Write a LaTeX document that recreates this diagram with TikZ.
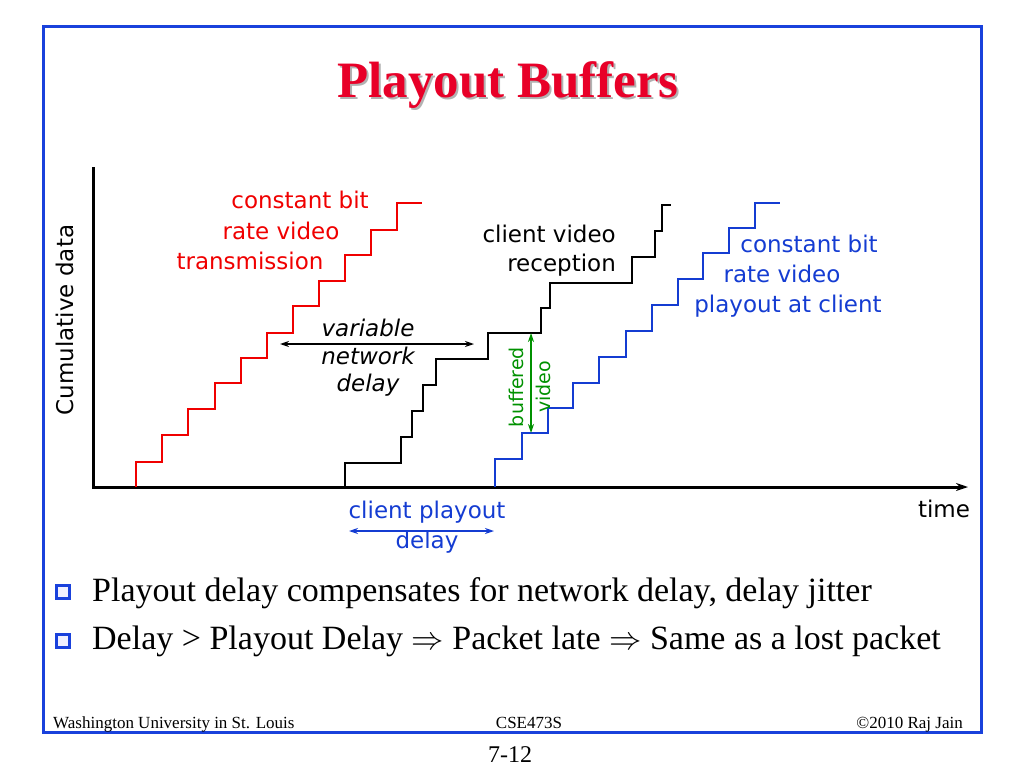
\documentclass[tikz,border=0pt]{standalone}
\usepackage{fontspec}
\setmainfont{Liberation Serif}
\newfontfamily\comicfont{DejaVu Sans}
\usepackage{tikz}
\usetikzlibrary{arrows.meta}
\definecolor{slideblue}{RGB}{25,65,220}
\definecolor{titlered}{RGB}{232,0,40}
\definecolor{sendred}{RGB}{240,0,0}
\definecolor{playblue}{RGB}{20,60,210}
\definecolor{bufgreen}{RGB}{0,145,0}
\newcommand{\impl}{\scalebox{1.3}{$\Rightarrow$}}

\begin{document}
\begin{tikzpicture}[x=1pt, y=-1pt,
  frame/.style={draw=slideblue, line width=3pt},
  axis/.style={line width=3pt, -{Stealth[length=12pt, width=8pt]}},
  stair/.style={line width=2pt},
  hand/.style={font=\comicfont\fontsize{23}{29}\selectfont, inner sep=0pt, align=center},
  arrow/.style={{Stealth[length=9pt, width=6pt]}-{Stealth[length=9pt, width=6pt]}, line width=1.5pt},
  bulletbox/.style={draw=slideblue, fill=blue!6, line width=3pt, minimum size=13pt, inner sep=0pt},
  body/.style={font=\fontsize{34}{40}\selectfont, anchor=base west, inner sep=0pt},
  foot/.style={font=\fontsize{17}{20}\selectfont, inner sep=0pt}
]
\useasboundingbox (0,0) rectangle (1024,768);
\draw[frame] (43,27) rectangle (981,732);

\node[font=\bfseries\fontsize{51}{56}\selectfont, text=black!30, anchor=base, inner sep=0pt] (titleshadow) at (510,99) {Playout Buffers};
\node[font=\bfseries\fontsize{51}{56}\selectfont, text=titlered, anchor=base, inner sep=0pt] (title) at (508,97) {Playout Buffers};

\coordinate (ytop) at (93,167);
\coordinate (xend) at (968,487);
\draw[axis] (ytop) |- (xend);

\draw[stair, sendred] (136,487) -- (136,462) -- (162,462) -- (162,435) -- (188,435) -- (188,409) -- (215,409) -- (215,383) -- (241,383) -- (241,358) -- (267,358) -- (267,333) -- (293,333) -- (293,306) -- (319,306) -- (319,281) -- (345,281) -- (345,255) -- (371,255) -- (371,230) -- (397,230) -- (397,203) -- (422,203);
\draw[stair] (345,487) -- (345,463) -- (401,463) -- (401,437) -- (412,437) -- (412,411) -- (423,411) -- (423,385) -- (436,385) -- (436,359) -- (488,359) -- (488,333) -- (541,333) -- (541,308) -- (550,308) -- (550,283) -- (632,283) -- (632,257) -- (655,257) -- (655,231) -- (662,231) -- (662,205) -- (671,205);
\draw[stair, playblue] (495,487) -- (495,459) -- (522,459) -- (522,433) -- (548,433) -- (548,408) -- (573,408) -- (573,383) -- (599,383) -- (599,357) -- (626,357) -- (626,331) -- (652,331) -- (652,305) -- (678,305) -- (678,279) -- (703,279) -- (703,253) -- (729,253) -- (729,228) -- (755,228) -- (755,203) -- (780,203);

\node[hand, rotate=90] (ylabel) at (65,320) {Cumulative data};
\node[hand, anchor=base] (time) at (944,517) {time};

\node[hand, sendred, anchor=base] (send1) at (300,208) {constant bit};
\node[hand, sendred, anchor=base] (send2) at (281,239) {rate video};
\node[hand, sendred, anchor=base] (send3) at (250,269) {transmission};

\node[hand, anchor=east, align=right] (recv) at (616,251) {client video\\reception};

\node[hand, playblue, anchor=base] (play1) at (809,252) {constant bit};
\node[hand, playblue, anchor=base] (play2) at (782,282) {rate video};
\node[hand, playblue, anchor=base] (play3) at (788,312) {playout at client};

\node[hand, font=\comicfont\itshape\fontsize{23}{27.5}\selectfont] (netdelay) at (368,358) {variable\\network\\delay};
\coordinate (nd1) at (280,344);
\coordinate (nd2) at (474,344);
\draw[arrow] (nd1) -- (nd2);

\node[hand, bufgreen, rotate=90, font=\comicfont\fontsize{19}{27}\selectfont] (buflabel) at (530,387) {buffered\\video};
\coordinate (buf1) at (531,333);
\coordinate (buf2) at (531,433);
\draw[arrow, bufgreen] (buf1) -- (buf2);

\node[hand, playblue, anchor=base] (pd1) at (427,518) {client playout};
\node[hand, playblue, anchor=base] (pd2) at (427,548) {delay};
\coordinate (pda) at (349,531);
\coordinate (pdb) at (494,531);
\draw[arrow, playblue] (pda) -- (pdb);

\node[bulletbox] (b1) at (63,592) {};
\node[body] (t1) at (92,601) {Playout delay compensates for network delay, delay jitter};
\node[bulletbox] (b2) at (63,641) {};
\node[body] (t2) at (92,649) {Delay > Playout Delay \impl{} Packet late \impl{} Same as a lost packet};

\node[foot, anchor=base west] (f1) at (53,728) {Washington University in St. Louis};
\node[foot, anchor=base] (f2) at (529,728) {CSE473S};
\node[foot, anchor=base east] (f3) at (963,728) {\textcopyright2010 Raj Jain};
\node[font=\fontsize{24}{28}\selectfont, anchor=base, inner sep=0pt] (page) at (510,762) {7-12};
\end{tikzpicture}
\end{document}
